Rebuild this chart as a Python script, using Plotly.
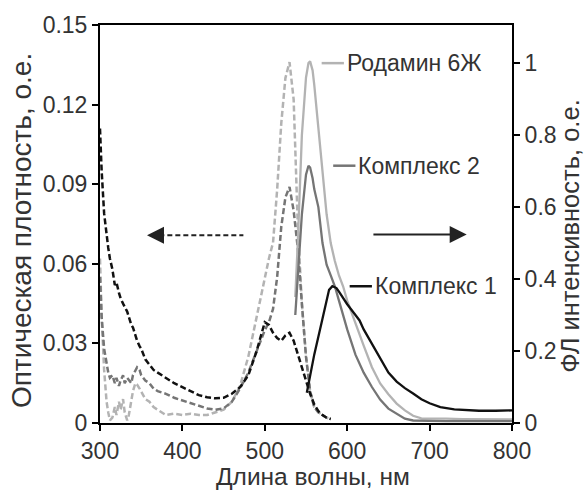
import plotly.graph_objects as go

# ---------------- data ----------------
abs_x = [300, 302, 305, 308, 310, 312, 315, 318, 320, 323, 325, 328, 330, 333, 335, 338, 340, 343, 345, 348,
         350, 355, 360, 365, 370, 375, 380, 390, 400, 410, 420, 430, 440, 450, 460, 470, 480, 490, 495, 500,
         505, 510, 515, 520, 525, 530, 535, 540, 545, 550, 555, 560, 565, 570, 575, 580]
abs_c1 = [0.111, 0.095, 0.079, 0.070, 0.066, 0.062, 0.058, 0.052, 0.053, 0.049, 0.047, 0.045, 0.044, 0.042, 0.040, 0.037, 0.036, 0.033, 0.031, 0.029,
          0.028, 0.024, 0.022, 0.020, 0.019, 0.018, 0.017, 0.015, 0.0135, 0.012, 0.0105, 0.0097, 0.0093, 0.0095, 0.011, 0.0135, 0.018, 0.027, 0.033, 0.038,
          0.037, 0.034, 0.032, 0.031, 0.033, 0.034, 0.031, 0.026, 0.021, 0.016, 0.011, 0.007, 0.0045, 0.003, 0.002, 0.0015]
abs_c2 = [0.055, 0.040, 0.028, 0.022, 0.019, 0.017, 0.018, 0.015, 0.017, 0.014, 0.016, 0.018, 0.015, 0.017, 0.016, 0.015, 0.018, 0.020, 0.021, 0.020,
          0.018, 0.016, 0.015, 0.013, 0.012, 0.0115, 0.011, 0.0095, 0.0085, 0.0075, 0.0065, 0.0055, 0.005, 0.0055, 0.008, 0.013, 0.019, 0.027, 0.031, 0.035,
          0.038, 0.043, 0.055, 0.074, 0.085, 0.089, 0.080, 0.066, 0.045, 0.025, 0.012, 0.006, 0.004, 0.003, 0.002, 0.0015]
abs_rh = [0.062, 0.040, 0.020, 0.008, 0.004, 0.001, 0.002, 0.006, 0.003, 0.008, 0.005, 0.009, 0.004, 0.001, 0.003, 0.008, 0.012, 0.015, 0.0145, 0.013,
          0.012, 0.009, 0.008, 0.006, 0.005, 0.004, 0.003, 0.0035, 0.003, 0.0035, 0.003, 0.003, 0.004, 0.005, 0.008, 0.014, 0.025, 0.040, 0.047, 0.054,
          0.062, 0.068, 0.088, 0.113, 0.130, 0.136, 0.122, 0.075, 0.045, 0.025, 0.012, 0.006, 0.004, 0.003, 0.002, 0.0015]

em_x = [537, 540, 545, 550, 553, 555, 558, 560, 565, 570, 575, 580, 585, 590, 595, 600, 610, 620, 630, 640,
        650, 660, 670, 680, 690, 700, 720, 740, 760, 780, 800]
em_rh = [0.35, 0.50, 0.80, 0.96, 1.0, 1.005, 0.98, 0.94, 0.82, 0.70, 0.58, 0.50, 0.45, 0.41, 0.38, 0.34, 0.275, 0.215, 0.155, 0.11,
         0.08, 0.054, 0.035, 0.02, 0.013, 0.012, 0.012, 0.011, 0.011, 0.010, 0.010]
em_c2 = [0.30, 0.40, 0.58, 0.69, 0.715, 0.71, 0.68, 0.65, 0.60, 0.50, 0.44, 0.41, 0.38, 0.34, 0.30, 0.26, 0.19, 0.14, 0.10, 0.065,
         0.04, 0.025, 0.012, 0.007, 0.006, 0.006, 0.005, 0.005, 0.005, 0.005, 0.005]

em1_x = [551, 560, 570, 578, 582, 587, 590, 600, 610, 615, 620, 630, 640, 650, 660, 670, 680, 690, 700, 713, 730, 745, 760, 780, 800]
em_c1 = [0.084, 0.19, 0.29, 0.37, 0.38, 0.375, 0.365, 0.33, 0.30, 0.285, 0.26, 0.22, 0.18, 0.14, 0.115, 0.097, 0.082, 0.066, 0.055, 0.044, 0.038, 0.035, 0.034, 0.034, 0.035]

x_ticks = [300, 400, 500, 600, 700, 800]
y_left_ticks = [0, 0.03, 0.06, 0.09, 0.12, 0.15]
y_left_text = ["0", "0.03", "0.06", "0.09", "0.12", "0.15"]
y_right_ticks = [0, 0.2, 0.4, 0.6, 0.8, 1.0]
y_right_text = ["0", "0.2", "0.4", "0.6", "0.8", "1"]

labels = ["Родамин 6Ж", "Комплекс 2", "Комплекс 1"]
label_y = [1.0, 0.715, 0.38]
label_x0 = [569, 583, 603]

x_title = "Длина волны, нм"
y_left_title = "Оптическая плотность, о.е."
y_right_title = "ФЛ интенсивность, о.е."

C_RH = "#b3b3b3"
C_C2 = "#757575"
C_C1 = "#111111"
TXT = "#333333"

FONT = "Liberation Sans, Arial, sans-serif"
DASH = "6px,3px"

fig = go.Figure()
for ys, col in [(abs_rh, C_RH), (abs_c2, C_C2), (abs_c1, C_C1)]:
    fig.add_trace(go.Scatter(x=abs_x, y=ys, mode="lines", line=dict(color=col, width=2.5, dash=DASH),
                             showlegend=False, yaxis="y"))
for xs, ys, col in [(em_x, em_rh, C_RH), (em_x, em_c2, C_C2), (em1_x, em_c1, C_C1)]:
    fig.add_trace(go.Scatter(x=xs, y=ys, mode="lines", line=dict(color=col, width=2.3), showlegend=False, yaxis="y2"))

# labels with short line markers
for lab, ly, lx0, col in zip(labels, label_y, label_x0, [C_RH, C_C2, C_C1]):
    fig.add_shape(type="line", xref="x", yref="y2", x0=lx0, x1=lx0 + 27, y0=ly, y1=ly,
                  line=dict(color=col, width=2.5))
    fig.add_annotation(xref="x", yref="y2", x=lx0 + 28, y=ly, text=lab, showarrow=False,
                       xanchor="left", yanchor="middle", font=dict(family=FONT, size=23, color=TXT))

# dashed arrow (left)
fig.add_shape(type="line", xref="x", yref="y", x0=372, x1=474, y0=0.0708, y1=0.0708,
              line=dict(color="#222", width=2, dash="5px,3px"))
fig.add_annotation(xref="x", yref="y", x=357, y=0.0708, ax=374, ay=0.0708, axref="x", ayref="y",
                   showarrow=True, arrowhead=2, arrowsize=1.7, arrowwidth=2, arrowcolor="#222", text="")
# solid arrow (right)
fig.add_annotation(xref="x", yref="y2", x=745, y=0.524, ax=630, ay=0.524, axref="x", ayref="y2",
                   showarrow=True, arrowhead=2, arrowsize=1.7, arrowwidth=2, arrowcolor="#222", text="")

# axis titles as annotations for precise placement
fig.add_annotation(xref="paper", yref="paper", x=0.518, y=-0.135, text=x_title, showarrow=False,
                   xanchor="center", yanchor="middle", font=dict(family=FONT, size=24.5, color=TXT))
fig.add_annotation(xref="paper", yref="paper", x=-0.19, y=0.484, text=y_left_title, showarrow=False,
                   textangle=-90, xanchor="center", yanchor="middle", font=dict(family=FONT, size=28, color=TXT))
fig.add_annotation(xref="paper", yref="paper", x=1.142, y=0.469, text=y_right_title, showarrow=False,
                   textangle=-90, xanchor="center", yanchor="middle", font=dict(family=FONT, size=25.5, color=TXT))

axis_common = dict(showgrid=False, zeroline=False, showline=True, linecolor="black", linewidth=2,
                   ticks="outside", ticklen=6, tickwidth=2, tickcolor="black",
                   tickfont=dict(family=FONT, size=23, color=TXT))

fig.update_layout(
    width=586, height=493,
    margin=dict(l=100, r=74, t=16, b=70),
    paper_bgcolor="white", plot_bgcolor="white",
    xaxis=dict(range=[300, 800], tickvals=x_ticks, mirror=True, **axis_common),
    yaxis=dict(range=[0, 0.15], tickvals=y_left_ticks, ticktext=y_left_text, **axis_common),
    yaxis2=dict(range=[0, 1.106], tickvals=y_right_ticks, ticktext=y_right_text, overlaying="y", side="right",
                **axis_common),
)

fig.write_html("out.html", config={"displayModeBar": False},
               post_script="document.body.style.margin='0';")
